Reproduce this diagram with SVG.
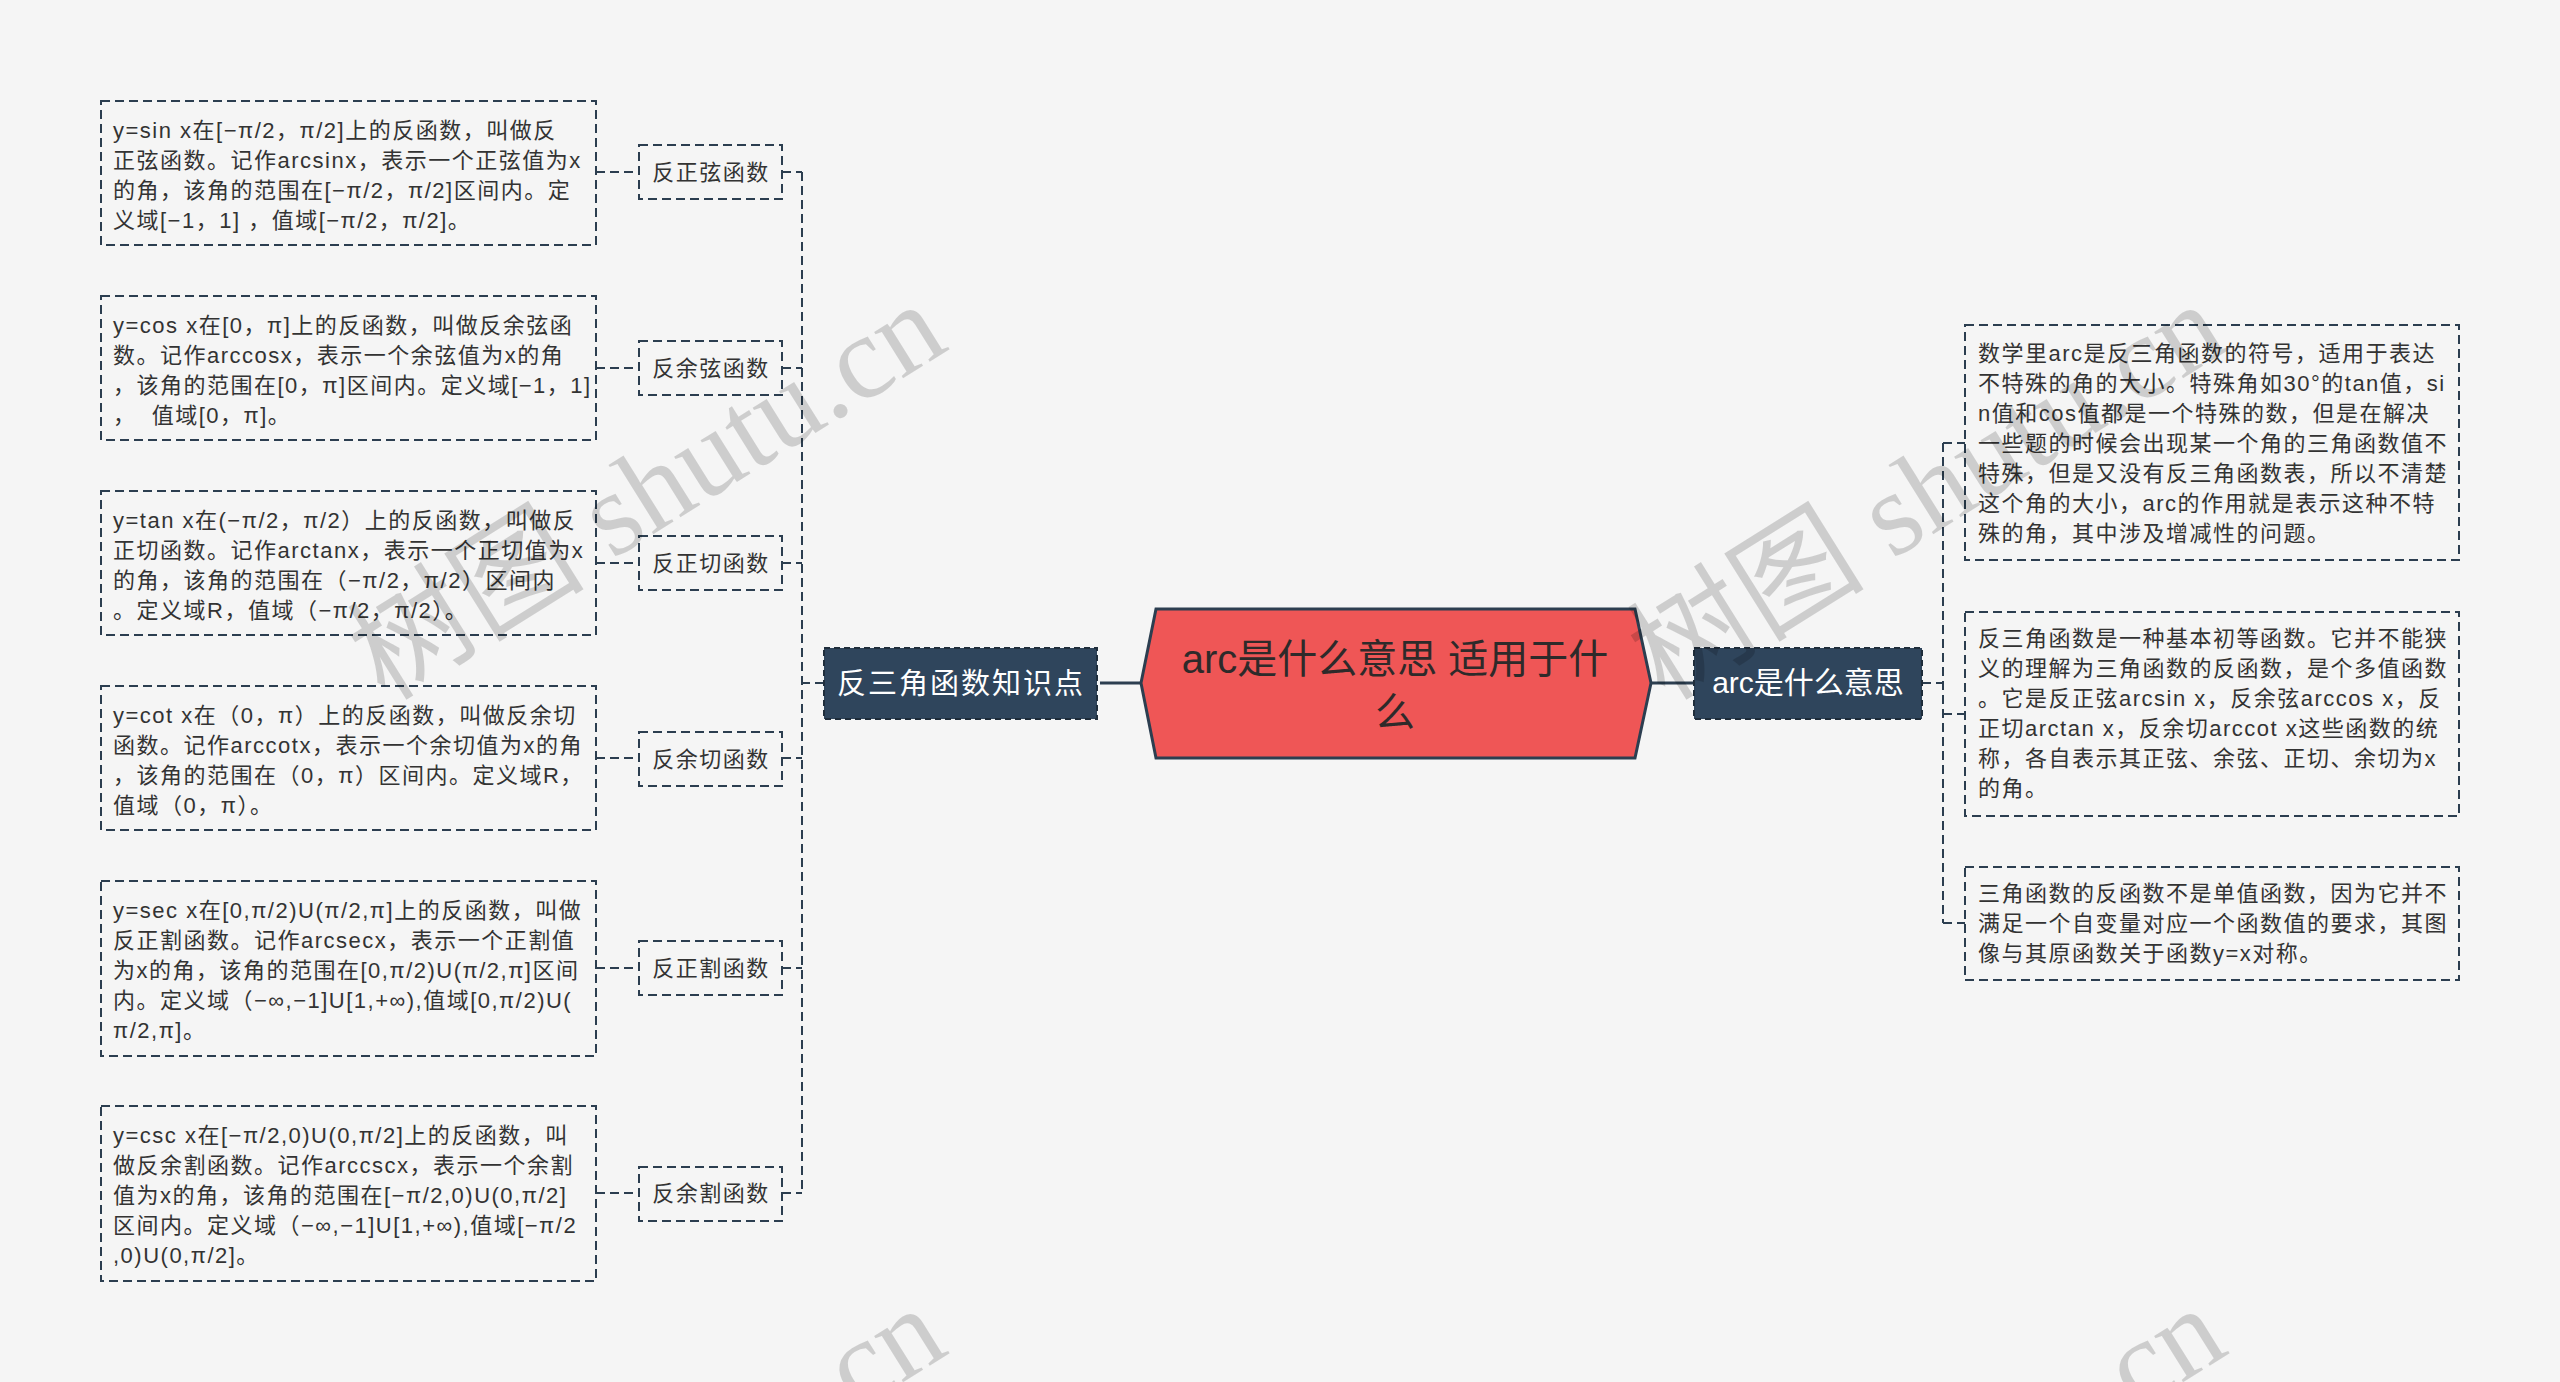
<svg xmlns="http://www.w3.org/2000/svg" width="2560" height="1382" viewBox="0 0 2560 1382">
<style>
.bg{fill:#f5f5f5}
.box{fill:none;stroke:#2c3e50;stroke-width:2;stroke-dasharray:9 5}
.lbl{fill:none;stroke:#2c3e50;stroke-width:2;stroke-dasharray:9 5}
.dark{fill:#2f455c;stroke:#1f2d3b;stroke-width:2;stroke-dasharray:6 4}
.conn{fill:none;stroke:#2c3e50;stroke-width:2;stroke-dasharray:9 5}
.solid{fill:none;stroke:#2c3e50;stroke-width:3}
.t{font-family:'Liberation Sans','Noto Sans CJK SC',sans-serif;font-size:22px;letter-spacing:1.5px;fill:#333}
.lt{font-family:'Liberation Sans','Noto Sans CJK SC',sans-serif;font-size:22px;letter-spacing:1.5px;fill:#333;text-anchor:middle}
.nt{font-family:'Liberation Sans','Noto Sans CJK SC',sans-serif;fill:#fff;text-anchor:middle}
.ct{font-family:'Liberation Sans','Noto Sans CJK SC',sans-serif;font-size:40px;fill:#2e2a2a;text-anchor:middle}
.wm{font-family:'Liberation Serif','Noto Sans CJK SC',serif;font-size:119px;fill:#000;fill-opacity:0.16}
</style>
<rect class="bg" x="0" y="0" width="2560" height="1382"/>

<g id="connectors">
  <path class="conn" d="M824,683 H802 M802,172 V1193 M782,172 H802 M782,368 H802 M782,563 H802 M782,758 H802 M782,968 H802 M782,1193 H802"/>
  <path class="conn" d="M596,172 H639 M596,368 H639 M596,563 H639 M596,758 H639 M596,968 H639 M596,1193 H639"/>
  <path class="solid" d="M1100,683 H1141 M1651,683 H1694"/>
  <path class="conn" d="M1922,683 H1943 M1943,443 V923 M1943,443 H1965 M1943,714 H1965 M1943,923 H1965"/>
</g>

<g id="center">
  <polygon points="1141,683 1156,609 1635,609 1651,683 1635,758 1156,758" fill="#ef5656" stroke="#2c3e50" stroke-width="3"/>
  <text class="ct" x="1395" y="673">arc是什么意思 适用于什</text>
  <text class="ct" x="1395" y="726">么</text>
</g>

<g id="node-left">
  <rect class="dark" x="824" y="648" width="273" height="71"/>
  <text class="nt" x="961" y="694" style="font-size:29px;letter-spacing:2px">反三角函数知识点</text>
</g>

<g id="node-right">
  <rect class="dark" x="1694" y="648" width="228" height="71"/>
  <text class="nt" x="1808" y="693" style="font-size:30px">arc是什么意思</text>
</g>

<g id="label-1"><rect class="lbl" x="639" y="145" width="143" height="54"/><text class="lt" x="711" y="180">反正弦函数</text></g>
<g id="label-2"><rect class="lbl" x="639" y="341" width="143" height="54"/><text class="lt" x="711" y="376">反余弦函数</text></g>
<g id="label-3"><rect class="lbl" x="639" y="536" width="143" height="54"/><text class="lt" x="711" y="571">反正切函数</text></g>
<g id="label-4"><rect class="lbl" x="639" y="732" width="143" height="54"/><text class="lt" x="711" y="767">反余切函数</text></g>
<g id="label-5"><rect class="lbl" x="639" y="941" width="143" height="54"/><text class="lt" x="711" y="976">反正割函数</text></g>
<g id="label-6"><rect class="lbl" x="639" y="1167" width="143" height="54"/><text class="lt" x="711" y="1201">反余割函数</text></g>

<g id="detail-1">
  <rect class="box" x="101" y="101" width="495" height="144"/>
  <text class="t" x="113" y="138">y=sin x在[−π/2，π/2]上的反函数，叫做反</text>
  <text class="t" x="113" y="168">正弦函数。记作arcsinx，表示一个正弦值为x</text>
  <text class="t" x="113" y="198">的角，该角的范围在[−π/2，π/2]区间内。定</text>
  <text class="t" x="113" y="228">义域[−1，1] ，值域[−π/2，π/2]。</text>
</g>
<g id="detail-2">
  <rect class="box" x="101" y="296" width="495" height="144"/>
  <text class="t" x="113" y="333">y=cos x在[0，π]上的反函数，叫做反余弦函</text>
  <text class="t" x="113" y="363">数。记作arccosx，表示一个余弦值为x的角</text>
  <text class="t" x="113" y="393">，该角的范围在[0，π]区间内。定义域[−1，1]</text>
  <text class="t" x="113" y="423">，&#160;&#160;值域[0，π]。</text>
</g>
<g id="detail-3">
  <rect class="box" x="101" y="491" width="495" height="144"/>
  <text class="t" x="113" y="528">y=tan x在(−π/2，π/2）上的反函数，叫做反</text>
  <text class="t" x="113" y="558">正切函数。记作arctanx，表示一个正切值为x</text>
  <text class="t" x="113" y="588">的角，该角的范围在（−π/2，π/2）区间内</text>
  <text class="t" x="113" y="618">。定义域R，值域（−π/2，π/2）。</text>
</g>
<g id="detail-4">
  <rect class="box" x="101" y="686" width="495" height="144"/>
  <text class="t" x="113" y="723">y=cot x在（0，π）上的反函数，叫做反余切</text>
  <text class="t" x="113" y="753">函数。记作arccotx，表示一个余切值为x的角</text>
  <text class="t" x="113" y="783">，该角的范围在（0，π）区间内。定义域R，</text>
  <text class="t" x="113" y="813">值域（0，π）。</text>
</g>
<g id="detail-5">
  <rect class="box" x="101" y="881" width="495" height="175"/>
  <text class="t" x="113" y="918">y=sec x在[0,π/2)U(π/2,π]上的反函数，叫做</text>
  <text class="t" x="113" y="948">反正割函数。记作arcsecx，表示一个正割值</text>
  <text class="t" x="113" y="978">为x的角，该角的范围在[0,π/2)U(π/2,π]区间</text>
  <text class="t" x="113" y="1008">内。定义域（−∞,−1]U[1,+∞),值域[0,π/2)U(</text>
  <text class="t" x="113" y="1038">π/2,π]。</text>
</g>
<g id="detail-6">
  <rect class="box" x="101" y="1106" width="495" height="175"/>
  <text class="t" x="113" y="1143">y=csc x在[−π/2,0)U(0,π/2]上的反函数，叫</text>
  <text class="t" x="113" y="1173">做反余割函数。记作arccscx，表示一个余割</text>
  <text class="t" x="113" y="1203">值为x的角，该角的范围在[−π/2,0)U(0,π/2]</text>
  <text class="t" x="113" y="1233">区间内。定义域（−∞,−1]U[1,+∞),值域[−π/2</text>
  <text class="t" x="113" y="1263">,0)U(0,π/2]。</text>
</g>

<g id="detail-r1">
  <rect class="box" x="1965" y="325" width="494" height="235"/>
  <text class="t" x="1978" y="361">数学里arc是反三角函数的符号，适用于表达</text>
  <text class="t" x="1978" y="391">不特殊的角的大小。特殊角如30°的tan值，si</text>
  <text class="t" x="1978" y="421">n值和cos值都是一个特殊的数，但是在解决</text>
  <text class="t" x="1978" y="451">一些题的时候会出现某一个角的三角函数值不</text>
  <text class="t" x="1978" y="481">特殊，但是又没有反三角函数表，所以不清楚</text>
  <text class="t" x="1978" y="511">这个角的大小，arc的作用就是表示这种不特</text>
  <text class="t" x="1978" y="541">殊的角，其中涉及增减性的问题。</text>
</g>
<g id="detail-r2">
  <rect class="box" x="1965" y="612" width="494" height="204"/>
  <text class="t" x="1978" y="646">反三角函数是一种基本初等函数。它并不能狭</text>
  <text class="t" x="1978" y="676">义的理解为三角函数的反函数，是个多值函数</text>
  <text class="t" x="1978" y="706">。它是反正弦arcsin x，反余弦arccos x，反</text>
  <text class="t" x="1978" y="736">正切arctan x，反余切arccot x这些函数的统</text>
  <text class="t" x="1978" y="766">称，各自表示其正弦、余弦、正切、余切为x</text>
  <text class="t" x="1978" y="796">的角。</text>
</g>
<g id="detail-r3">
  <rect class="box" x="1965" y="867" width="494" height="113"/>
  <text class="t" x="1978" y="901">三角函数的反函数不是单值函数，因为它并不</text>
  <text class="t" x="1978" y="931">满足一个自变量对应一个函数值的要求，其图</text>
  <text class="t" x="1978" y="961">像与其原函数关于函数y=x对称。</text>
</g>

<g id="watermarks">
  <text class="wm" transform="translate(385,702) rotate(-32)">树图 shutu.cn</text>
  <text class="wm" transform="translate(1665,702) rotate(-32)">树图 shutu.cn</text>
  <text class="wm" transform="translate(385,1706) rotate(-32)">树图 shutu.cn</text>
  <text class="wm" transform="translate(1665,1706) rotate(-32)">树图 shutu.cn</text>
</g>
</svg>
